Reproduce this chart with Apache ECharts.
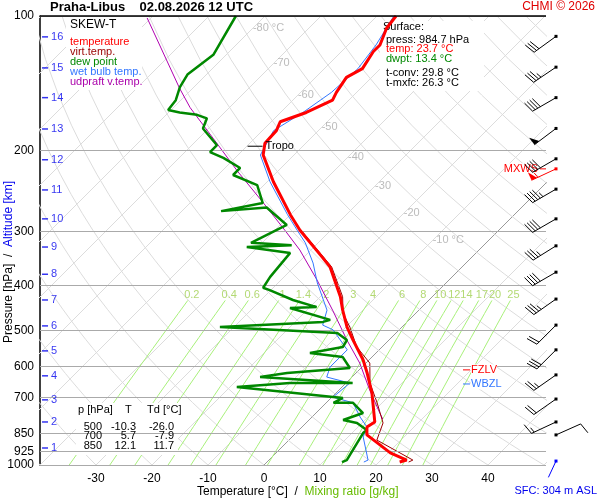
<!DOCTYPE html>
<html><head><meta charset="utf-8">
<script src="https://cdn.jsdelivr.net/npm/echarts@6/dist/echarts.min.js"></script>
<style>html,body{margin:0;padding:0;background:#fff}#c{width:600px;height:500px}</style>
</head><body><div id="c"></div>
<script>
// ---- data ----
const tempP = [985,975,940,893,857,823,802,691,624,583,527,493,452,422,362,344,300,277,234,204,192,180,172,164,154,148,137,131,120,116,106.5,100];
const tempT = [23.7,24.6,20.4,16.3,13.0,11.6,12.1,6.4,2.0,-1.1,-6.4,-9.8,-13.6,-16.4,-23.6,-26.8,-35.5,-40,-48.9,-55.5,-57.3,-57.5,-58.4,-55.4,-52.9,-53.6,-54.5,-53.2,-54.3,-54.3,-56.1,-56.6];
const dewP = [985,975,849,836,806,794,766,727,727,709,670,657,657,637,624,608,575,563,546,527,508,493,480,475,447,445,429,408,403,381,337,327,324,320,292,267,272,261,238,226,218,207,201,194,178,169,166,164,162,154,144,135,122,100];
const dewT = [13.4,13.9,12.0,12.1,9.1,6.1,8.4,4.8,1.3,2.1,-18.8,-10,1.2,-16.4,-12.3,-2.0,-5.2,-11.8,-7.0,-7.5,-10.5,-32.5,-15,-14.1,-23.4,-18.8,-24.3,-30.2,-31.8,-32.5,-33.2,-42,-34.3,-42,-38.8,-45.5,-53,-47,-51.2,-57.3,-57.3,-62.1,-65.5,-65.5,-71,-72.1,-74.5,-78,-80.5,-80.9,-82.5,-83.4,-82.3,-85.2];
const wbP = [985,975,866,823,782,727,706,657,637,605,554,500,488,452,393,355,320,300,277,234,204,180,164,148,131,116,100];
const wbT = [17.3,17.7,12.7,11.6,8.6,4.8,0.2,0.7,-4.5,-5.7,-5.7,-11.8,-14.5,-16.4,-23,-27.3,-32.3,-36,-40.5,-49.5,-56,-58,-56,-54.5,-54,-55,-57];
const tvP = [985,975,880,806,727,657,593,546,493,459,422,362,300];
const tvT = [25.3,25.7,15.7,13.75,9.1,4.3,0.7,-4.5,-9.3,-13,-16,-23.3,-35.3];
const upP = [790,766,681,593,527,452,387,332,300,260,222,187,160,145,101];
const upT = [13.0,11.4,5.5,-1.1,-7.5,-15.4,-23.6,-32,-38.2,-47.1,-57.1,-67.5,-77,-82.3,-100.7];
const pLevels = [100,200,300,400,500,600,700,850,925,1000];
const kmLabels = [1,2,3,4,5,6,7,8,9,10,11,12,13,14,15,16];
const kmP = [916.5,802,716,633,557,490,429,376,327,283,244,209,178.5,152,130.5,111.3];
const mixW = [0.2,0.4,0.6,1,1.4,2,3,4,6,8,10,12,14,17,20,25];
const mixLbl = ['0.2','0.4','0.6','1','1.4','2','3','4','6','8','10','12','14','17','20','25'];
const isoLbl = [-80,-70,-60,-50,-40,-30,-20,-10];
const isoLblP = [106.4,127.4,150,177,206,239,275,316];
const windP = [111,130,152,178,208,219,243,283,325,372,427,488,554,630,713,802,857,980];
const windKt = [30,35,40,50,40,55,45,40,35,40,35,20,30,25,20,15,10,0];
const windDir = [234,236,240,233,240,245,240,240,238,240,235,225,225,235,235,245,66,205];
const windFlag = [0,0,0,0,0,1,0,0,0,0,0,0,0,0,0,0,0,2]; // 1 = MXWS (red), 2 = surface (blue)
const xTicks = [-30,-20,-10,0,10,20,30,40];
const tropoP = 195, tropoT = -57;
const fzlvP = 614, wbzlP = 660, mxwsP = 219;

// ---- helpers ----
const K = 449/5.6;
const lg = p => Math.log10(p);
const X = (T,p) => T + K*(3 - lg(p));
const prof = (P,T) => P.map((p,i)=>[X(T[i],p), lg(p)]);
const XMIN = -40, XMAX = (546-264)/5.6;

const series = [];
function line(data,color,width,z){ series.push({type:'line',data,showSymbol:false,symbol:'none',silent:true,clip:true,z:z||2,lineStyle:{color,width:width||1},animation:false}); }

// isotherms
for(let T=-160;T<=50;T+=10){ line([[X(T,1000),3],[X(T,100),2]], T===0?'#999':'#dcdcdc', 1, 1); }
// dry adiabats
for(let th=-40; th<=200; th+=10){
  const d=[]; for(let p=1000;p>=100;p-=25){ const T=(th+273.15)*Math.pow(p/1000,0.286)-273.15; d.push([X(T,p),lg(p)]); }
  line(d,'#dcdcdc',1,1);
}
// mixing ratio lines
function tdw(w,p){ const e=w*p/(622+w); const l=Math.log(e/6.112); return 243.5*l/(17.67-l); }
mixW.forEach(w=>{ const d=[]; for(let p=1000;p>=430;p-=30){d.push([X(tdw(w,p),p),lg(p)]);} d.push([X(tdw(w,430),430),lg(430)]); line(d,'#a8f07a',1,1); });
series.push({type:'scatter',silent:true,symbolSize:0,animation:false,z:3,
  data:mixW.map((w,i)=>({value:[X(tdw(w,418),418),lg(418)],label:{show:true,formatter:mixLbl[i],position:'inside',color:'#a0d050',fontSize:11,fontFamily:'Liberation Sans'}}))});
// isotherm labels
series.push({type:'scatter',silent:true,symbolSize:0,animation:false,z:3,
  data:isoLbl.map((t,i)=>({value:[X(t,isoLblP[i]),lg(isoLblP[i])],label:{show:true,formatter:(i===0||i===7)?t+' °C':''+t,position:'right',distance:0,color:'#aaa',fontSize:11,fontFamily:'Liberation Sans'}}))});
// pressure lines with labels
series.push({type:'line',data:[],animation:false,markLine:{silent:true,symbol:'none',animation:false,
  lineStyle:{color:'#aaa',width:1,type:'solid'},
  label:{position:'start',distance:6,color:'#000',fontSize:12,fontFamily:'Liberation Sans',formatter:p=>p.name},
  data:pLevels.map(p=>({yAxis:lg(p),name:String(p)}))}});
// profiles
line(prof(upP,upT),'#b000b0',1,4);
line(prof(tvP,tvT),'#990000',1,4);
line(prof(wbP,wbT),'#3377ff',1,5);
line(prof(dewP,dewT),'#008800',2.5,6);
line(prof(tempP,tempT),'#ff0000',3,7);
// km labels
series.push({type:'scatter',silent:true,animation:false,z:8,symbol:'rect',symbolSize:[6,1.5],itemStyle:{color:'#0000ee'},
  data:kmLabels.map((k,i)=>({value:[XMIN+0.9,lg(kmP[i])],label:{show:true,formatter:String(k),position:'right',distance:3,color:'#0000ee',fontSize:11,fontFamily:'Liberation Sans'}}))});
// tropopause, FZLV, WBZL, MXWS markers
series.push({type:'custom',silent:true,animation:false,z:9,clip:false,data:[[X(tropoT,tropoP),lg(tropoP),0],[XMAX,lg(fzlvP),1],[XMAX,lg(wbzlP),2],[XMAX,lg(mxwsP),3]],
  renderItem:(params,api)=>{
    const c=api.coord([api.value(0),api.value(1)]); const k=api.value(2);
    if(k===0) return {type:'group',children:[
      {type:'line',shape:{x1:c[0]-16,y1:c[1],x2:c[0]-1,y2:c[1]},style:{stroke:'#000',lineWidth:1}},
      {type:'text',style:{x:c[0]+2,y:c[1],text:'Tropo',fill:'#000',font:'11px Liberation Sans',verticalAlign:'middle'}}]};
    const col = k===2?'#3377ff':'#ff0000'; const txt = k===1?'FZLV':k===2?'WBZL':'MXWS';
    if(k===3) return {type:'group',children:[
      {type:'line',shape:{x1:c[0]-6,y1:c[1],x2:c[0],y2:c[1]},style:{stroke:col,lineWidth:1}},
      {type:'text',style:{x:c[0]-8,y:c[1],text:txt,fill:col,font:'11px Liberation Sans',align:'right',verticalAlign:'middle',backgroundColor:'#fff'}}]};
    const x0=c[0]-83;
    return {type:'group',children:[
      {type:'line',shape:{x1:x0,y1:c[1],x2:x0+7,y2:c[1]},style:{stroke:col,lineWidth:1}},
      {type:'text',style:{x:x0+8,y:c[1],text:txt,fill:col,font:'11px Liberation Sans',verticalAlign:'middle',backgroundColor:'#fff'}}]};
  }});
// wind barbs
series.push({type:'custom',silent:true,animation:false,z:9,clip:false,
  data:windP.map((p,i)=>[XMIN,lg(p),windKt[i],windDir[i],windFlag[i]]),
  renderItem:(params,api)=>{
    const c=api.coord([api.value(0),api.value(1)]);
    const x0=556,y0=c[1],kt=api.value(2),d=api.value(3)*Math.PI/180,f=api.value(4);
    const col=f===1?'#ff0000':f===2?'#0000ff':'#000';
    const sx=Math.sin(d),sy=-Math.cos(d),px=-sy,py=sx;
    const L=f===2?18:27, ex=x0+sx*L, ey=y0+sy*L;
    const ch=[{type:'rect',shape:{x:x0-1.5,y:y0-1.5,width:3,height:3},style:{fill:col}},
      {type:'line',shape:{x1:x0,y1:y0,x2:ex,y2:ey},style:{stroke:col,lineWidth:1}}];
    let rem=kt, pos=0; const fl=11;
    while(rem>=50){ const bx=ex-sx*pos, by=ey-sy*pos;
      ch.push({type:'polygon',shape:{points:[[bx,by],[bx-sx*6,by-sy*6],[bx+px*fl*0.8,by+py*fl*0.8]]},style:{fill:col}}); pos+=7; rem-=50; }
    while(rem>=10){ const bx=ex-sx*pos, by=ey-sy*pos;
      ch.push({type:'line',shape:{x1:bx,y1:by,x2:bx+px*fl+sx*3,y2:by+py*fl+sy*3},style:{stroke:col,lineWidth:1}}); pos+=3; rem-=10; }
    if(rem>=5){ if(pos===0) pos=3; const bx=ex-sx*pos, by=ey-sy*pos;
      ch.push({type:'line',shape:{x1:bx,y1:by,x2:bx+px*fl*0.5+sx*1.5,y2:by+py*fl*0.5+sy*1.5},style:{stroke:col,lineWidth:1}}); }
    return {type:'group',children:ch};
  }});

const F='Liberation Sans';
const chart = echarts.init(document.getElementById('c'));
chart.setOption({
  animation:false,
  grid:{left:40,top:16,right:54,bottom:35},
  xAxis:{type:'value',min:XMIN,max:XMAX,interval:10,axisLine:{show:false},axisTick:{show:false},splitLine:{show:false},
    axisLabel:{fontSize:12,fontFamily:F,color:'#000',margin:8,showMinLabel:false,showMaxLabel:false,formatter:v=>xTicks.includes(v)?String(v):''}},
  yAxis:{type:'value',min:2,max:3,inverse:true,axisLine:{show:true,onZero:false,lineStyle:{color:'#000',width:1.5}},axisTick:{show:false},axisLabel:{show:false},splitLine:{show:false}},
  series,
  graphic:[
    {type:'line',shape:{x1:40,y1:16,x2:546,y2:16},style:{stroke:'#000',lineWidth:1.5},z:10},
    {type:'text',left:50,top:1,style:{text:'Praha-Libus    02.08.2026 12 UTC',font:'bold 13px '+F,fill:'#000'}},
    {type:'text',right:5,top:1,style:{text:'CHMI © 2026',font:'12px '+F,fill:'#e00000'}},
    {type:'rect',shape:{x:66,y:17,width:76,height:73},style:{fill:'#fff'},z:5},
    {type:'text',x:70,y:19,z:6,style:{text:'SKEW-T',font:'12px '+F,fill:'#000'}},
    {type:'text',x:70,y:37,z:6,style:{text:'{a|temperature}\n{b|virt.temp.}\n{c|dew point}\n{d|wet bulb temp.}\n{e|udpraft v.temp.}',font:'11px '+F,
      rich:{a:{fill:'#ff0000',lineHeight:10,font:'11px '+F},b:{fill:'#990000',lineHeight:10,font:'11px '+F},c:{fill:'#008800',lineHeight:10,font:'11px '+F},d:{fill:'#3377ff',lineHeight:10,font:'11px '+F},e:{fill:'#aa00aa',lineHeight:10,font:'11px '+F}}}},
    {type:'rect',shape:{x:380,y:21,width:104,height:70},style:{fill:'#fff'},z:5},
    {type:'text',x:383,y:21,z:6,style:{text:'Surface:',font:'11px '+F,fill:'#000'}},
    {type:'text',x:386,y:35,z:6,style:{text:'{k|press: 984.7 hPa}\n{r|temp: 23.7 °C}\n{g|dwpt: 13.4 °C}',font:'11px '+F,
      rich:{k:{fill:'#000',lineHeight:9.5,font:'11px '+F},r:{fill:'#ff0000',lineHeight:9.5,font:'11px '+F},g:{fill:'#008800',lineHeight:9.5,font:'11px '+F}}}},
    {type:'text',x:386,y:68,z:6,style:{text:'t-conv: 29.8 °C\nt-mxfc: 26.3 °C',font:'11px '+F,fill:'#000',lineHeight:10}},
    {type:'rect',shape:{x:76,y:403,width:102,height:52},style:{fill:'#fff'},z:5},
    {type:'text',x:78,y:404,z:6,style:{text:'p [hPa]    T     Td [°C]',font:'11px '+F,fill:'#000'}},
    {type:'text',x:102,y:422,z:6,style:{text:'500\n700\n850',font:'11px '+F,fill:'#000',align:'right',lineHeight:9.5}},
    {type:'text',x:136,y:422,z:6,style:{text:'-10.3\n5.7\n12.1',font:'11px '+F,fill:'#000',align:'right',lineHeight:9.5}},
    {type:'text',x:174,y:422,z:6,style:{text:'-26.0\n-7.9\n11.7',font:'11px '+F,fill:'#000',align:'right',lineHeight:9.5}},
    {type:'text',x:197,y:486,style:{text:'{k|Temperature [°C]  /  }{g|Mixing ratio [g/kg]}',font:'12px '+F,rich:{k:{fill:'#000',font:'12px '+F},g:{fill:'#66bb00',font:'12px '+F}}}},
    {type:'text',x:3,y:343,rotation:Math.PI/2,style:{text:'{k|Pressure [hPa]  /  }{b|Altitude [km]}',font:'12px '+F,rich:{k:{fill:'#000',font:'12px '+F},b:{fill:'#0000ee',font:'12px '+F}}}},
    {type:'text',right:3,y:485,style:{text:'SFC: 304 m ASL',font:'11px '+F,fill:'#0000ee'}}
  ]
});
</script></body></html>
